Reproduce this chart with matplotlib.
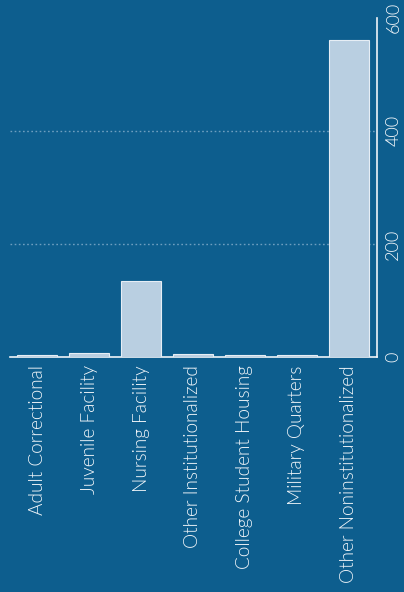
import matplotlib
matplotlib.use("Agg")
import matplotlib.pyplot as plt

categories = [
    "Adult Correctional",
    "Juvenile Facility",
    "Nursing Facility",
    "Other Institutionalized",
    "College Student Housing",
    "Military Quarters",
    "Other Noninstitutionalized",
]
values = [4, 7, 134, 5, 4, 4, 561]
yticks = [0, 200, 400, 600]

BG = "#0d5e8e"
BAR = "#b9cfe1"
FG = "#f0f5f9"

plt.rcParams["font.family"] = ["Lato", "DejaVu Sans"]

fig = plt.figure(figsize=(4.04, 5.92), dpi=100, facecolor=BG)
ax = fig.add_axes([0.025, 0.397, 0.908, 0.573], facecolor=BG)

x = list(range(len(categories)))
ax.bar(x, values, width=0.76, color=BAR, edgecolor="#e6eef5", linewidth=0.8, zorder=3)

ax.set_xlim(-0.52, 6.54)
ax.set_ylim(0, 600)
ax.set_yticks(yticks)
ax.set_yticklabels([str(v) for v in yticks], rotation=90, va="center",
                   fontsize=13, fontweight=300)
ax.yaxis.tick_right()
ax.set_xticks(x)
ax.set_xticklabels(categories, rotation=90, ha="center", va="top",
                   fontsize=13.7, fontweight=300)
ax.tick_params(axis="both", length=0, pad=6, labelcolor=FG)

# dotted gridlines behind the bars
for g in (200, 400):
    ax.axhline(g, color="#8fb5d0", linestyle=(0, (1.2, 1.8)), linewidth=1.0,
               alpha=0.75, zorder=1)

for s in ("top", "left"):
    ax.spines[s].set_visible(False)
for s in ("bottom", "right"):
    ax.spines[s].set_color("#f0f4f8")
    ax.spines[s].set_linewidth(1.2)

fig.savefig("out.png", dpi=100, facecolor=BG)
